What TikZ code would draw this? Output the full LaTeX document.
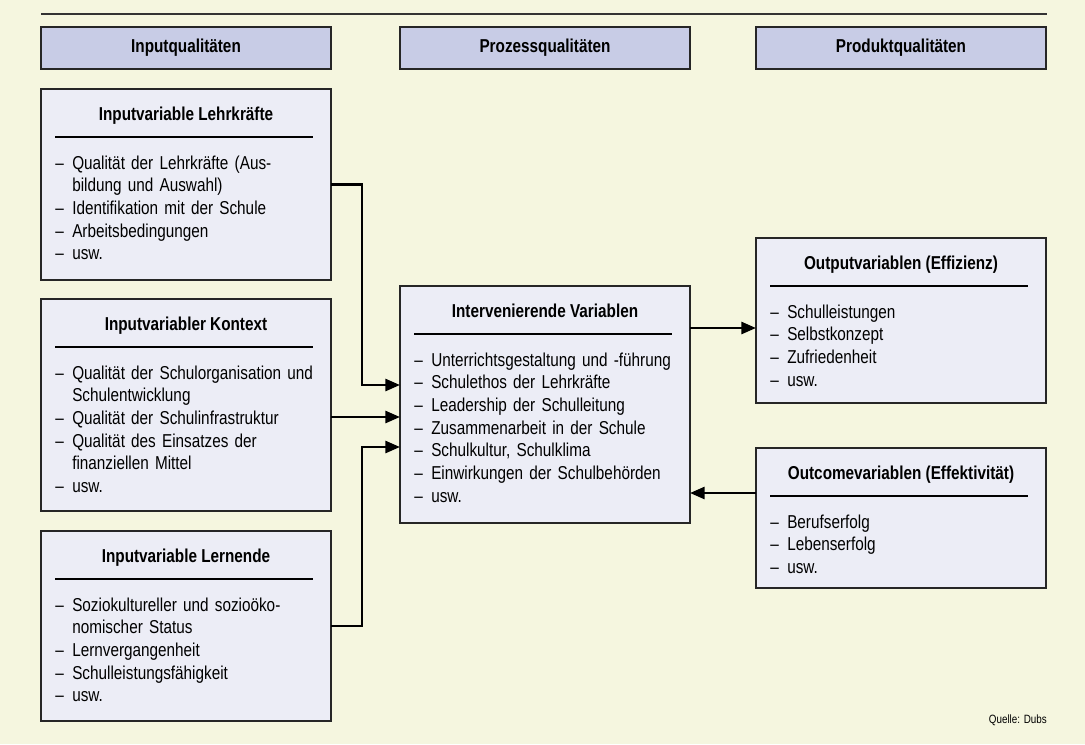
\documentclass[tikz,border=0pt]{standalone}
\usepackage{fontspec}
\setmainfont[FakeStretch=0.82]{Liberation Sans}
\usetikzlibrary{arrows.meta}

\definecolor{bgcream}{RGB}{245,246,223}
\definecolor{headfill}{RGB}{200,204,230}
\definecolor{boxfill}{RGB}{236,237,246}

\providecommand{\Dash}{\makebox[12.75pt][l]{–}}
\providecommand{\Skip}{\hspace*{12.75pt}}
\providecommand{\VarBox}[5]{
\node[varbox, minimum height=#3] (#1) at (#2) {};
\node[vartitle] (#1-title) at ([shift={(0,31)}]#1.north) {#4};
\draw[rule] ([shift={(14,48)}]#1.north west) -- ([shift={(-18,48)}]#1.north east);
\node[varlist] (#1-list) at ([shift={(14,80)}]#1.north west) {#5};
}

\tikzset{
  headbox/.style={draw=black!85, line width=1.1pt, fill=headfill, anchor=north west,
    minimum width=217.5pt, minimum height=31.5pt, inner sep=0pt, outer sep=0pt,
    font=\bfseries\fontsize{14}{16}\selectfont},
  varbox/.style={draw=black!85, line width=1.1pt, fill=boxfill, anchor=north west,
    minimum width=217.5pt, inner sep=0pt, outer sep=0pt},
  vartitle/.style={anchor=base, inner sep=0pt, font=\bfseries\fontsize{14}{16}\selectfont},
  varlist/.style={anchor=base west, inner sep=0pt, text width=210pt, align=left,
    font=\fontsize{14}{17}\selectfont},
  rule/.style={line width=0.8pt},
  conn/.style={line width=2pt},
  arr/.style={conn, -{Triangle[length=11pt,width=9pt]}}
}

\begin{document}
\begin{tikzpicture}[x=0.75pt, y=-0.75pt]
\useasboundingbox (0,0) rectangle (1085,744);
\fill[bgcream] (0,0) rectangle (1085,744);
\draw[line width=1.4pt, black!80] (41,14) -- (1047,14);

% column heads
\node[headbox] (inputq) at (41,27) {Inputqualitäten};
\node[headbox] (prozessq) at (400,27) {Prozessqualitäten};
\node[headbox] (produktq) at (756,27) {Produktqualitäten};

% input variables
\VarBox{lehr}{41,89}{143.25pt}{Inputvariable Lehrkräfte}{
\Dash Qualität der Lehrkräfte (Aus-\\
\Skip bildung und Auswahl)\\
\Dash Identifikation mit der Schule\\
\Dash Arbeitsbedingungen\\
\Dash usw.}
\VarBox{kontext}{41,299}{159pt}{Inputvariabler Kontext}{
\Dash Qualität der Schulorganisation und\\
\Skip Schulentwicklung\\
\Dash Qualität der Schulinfrastruktur\\
\Dash Qualität des Einsatzes der\\
\Skip finanziellen Mittel\\
\Dash usw.}
\VarBox{lernende}{41,531}{142.5pt}{Inputvariable Lernende}{
\Dash Soziokultureller und sozioöko-\\
\Skip nomischer Status\\
\Dash Lernvergangenheit\\
\Dash Schulleistungsfähigkeit\\
\Dash usw.}

% process
\VarBox{zentral}{400,286}{177.75pt}{Intervenierende Variablen}{
\Dash Unterrichtsgestaltung und -führung\\
\Dash Schulethos der Lehrkräfte\\
\Dash Leadership der Schulleitung\\
\Dash Zusammenarbeit in der Schule\\
\Dash Schulkultur, Schulklima\\
\Dash Einwirkungen der Schulbehörden\\
\Dash usw.}

% product
\VarBox{output}{756,238}{123.75pt}{Outputvariablen (Effizienz)}{
\Dash Schulleistungen\\
\Dash Selbstkonzept\\
\Dash Zufriedenheit\\
\Dash usw.}
\VarBox{outcome}{756,448}{105pt}{Outcomevariablen (Effektivität)}{
\Dash Berufserfolg\\
\Dash Lebenserfolg\\
\Dash usw.}

% arrows
\coordinate (row-a) at (0,385);
\coordinate (row-b) at (0,417);
\coordinate (row-c) at (0,447);
\coordinate (row-d) at (0,328);
\coordinate (row-e) at (0,493);
\draw[arr] (lehr.east) -- ++(31,0) |- (zentral.west |- row-a);
\draw[arr] (kontext.east |- row-b) -- (zentral.west |- row-b);
\draw[arr] (lernende.east) -- ++(31,0) |- (zentral.west |- row-c);
\draw[arr] (zentral.east |- row-d) -- (output.west |- row-d);
\draw[arr] (outcome.west |- row-e) -- (zentral.east |- row-e);

\node[anchor=base east, inner sep=0pt, font=\fontsize{9}{10}\selectfont] (quelle) at (1047,723) {Quelle: Dubs};
\end{tikzpicture}
\end{document}
